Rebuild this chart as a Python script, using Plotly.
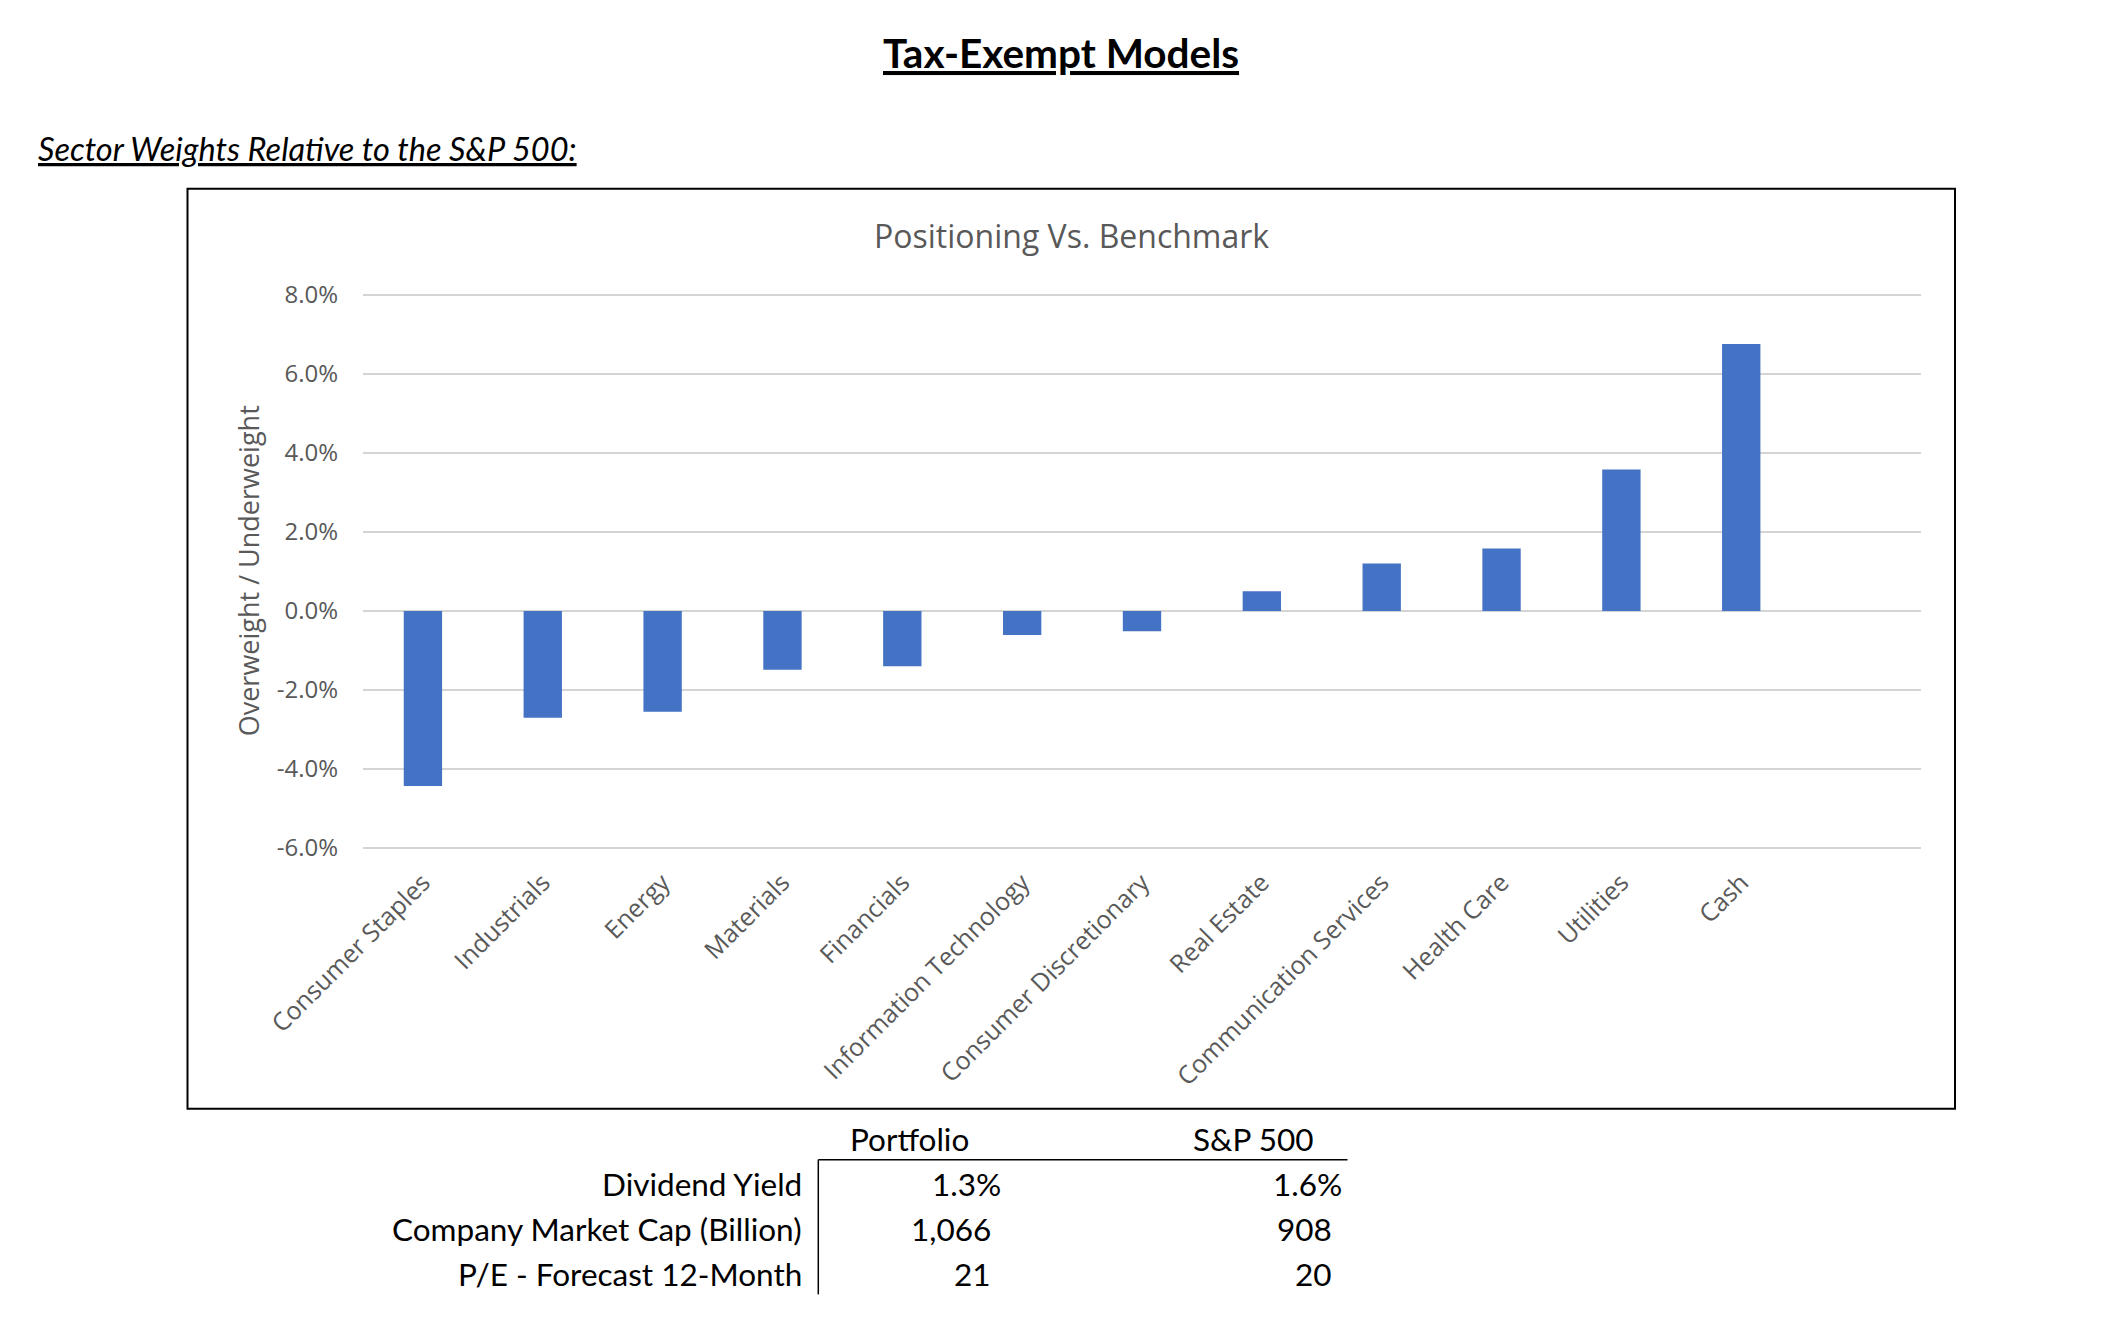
import plotly.graph_objects as go

# ---------------- data ----------------
categories = ["Consumer Staples", "Industrials", "Energy", "Materials", "Financials",
              "Information Technology", "Consumer Discretionary", "Real Estate",
              "Communication Services", "Health Care", "Utilities", "Cash"]
relative_weight = [-4.43, -2.70, -2.55, -1.49, -1.40, -0.61, -0.51, 0.50, 1.20, 1.58, 3.58, 6.76]

y_tick_values = [-6, -4, -2, 0, 2, 4, 6, 8]
y_tick_labels = ["-6.0%", "-4.0%", "-2.0%", "0.0%", "2.0%", "4.0%", "6.0%", "8.0%"]

page_title = "Tax-Exempt Models"
section_title = "Sector Weights Relative to the S&P 500:"
chart_title = "Positioning Vs. Benchmark"
y_axis_title = "Overweight / Underweight"

table_columns = ["Portfolio", "S&P 500"]
table_rows = ["Dividend Yield", "Company Market Cap (Billion)", "P/E - Forecast 12-Month"]
portfolio_values = ["1.3%", "1,066", "21"]
sp500_values = ["1.6%", "908", "20"]

# ---------------- geometry (pixels) ----------------
W, H = 2105, 1337
Y_MIN, Y_MAX = -6, 8
Y_PAD = 0.05                      # small pad so the end gridlines are drawn
TOP_PX, BOT_PX = 294.7, 847.7     # pixel rows of 8% and -6%
PX_PER_UNIT = (BOT_PX - TOP_PX) / (Y_MAX - Y_MIN)
PL, PR = 363, 1921
PT = TOP_PX - Y_PAD * PX_PER_UNIT
PB = BOT_PX + Y_PAD * PX_PER_UNIT


def fx(x):
    return (x - PL) / (PR - PL)


def fy(y):
    return (PB - y) / (PB - PT)


GREY = "#595959"
CHART_FONT = "Open Sans"
DOC_FONT = "Lato"

fig = go.Figure()
fig.add_trace(go.Bar(
    x=categories, y=relative_weight,
    marker=dict(color="#4472C4", line=dict(width=0)),
    hoverinfo="x+y",
))

annotations = []


def add_text(text, x, y, size, family, color="black", xanchor="center", yanchor="middle", angle=0):
    annotations.append(dict(
        text=text, x=fx(x), y=fy(y), xref="paper", yref="paper",
        xanchor=xanchor, yanchor=yanchor, showarrow=False, textangle=angle,
        font=dict(size=size, family=family, color=color),
    ))


# document titles
add_text("<b><u>" + page_title + "</u></b>", 1061, 52.5, 40.5, DOC_FONT)
add_text("<i><u>" + section_title + "</u></i>", 36, 148.5, 32.5, DOC_FONT, xanchor="left")

# chart titles
add_text(chart_title, 1071, 235, 32, CHART_FONT, color=GREY)
add_text(y_axis_title, 248, 571, 27, CHART_FONT, color=GREY, angle=-90)

# table
TABLE_SIZE = 31.5
col_centers = [909, 1253]
col_right = [992.5, 1334]
header_y = 1139
row_ys = [1184, 1228.5, 1273.5]
label_right = 804

for c, name in enumerate(table_columns):
    add_text(name, col_centers[c], header_y, TABLE_SIZE, DOC_FONT)
for r, label in enumerate(table_rows):
    add_text(label, label_right, row_ys[r], TABLE_SIZE, DOC_FONT, xanchor="right")
    for c, vals in enumerate([portfolio_values, sp500_values]):
        v = vals[r]
        xr = col_right[c] + (10 if v.endswith("%") else 0)
        add_text(v, xr, row_ys[r], TABLE_SIZE, DOC_FONT, xanchor="right")

shapes = [
    # chart frame
    dict(type="rect", xref="paper", yref="paper",
         x0=fx(187.5), x1=fx(1955), y0=fy(188.5), y1=fy(1108.5),
         line=dict(color="black", width=2), fillcolor="rgba(0,0,0,0)", layer="below"),
    # table rules
    dict(type="line", xref="paper", yref="paper",
         x0=fx(818.3), x1=fx(1347.5), y0=fy(1159.3), y1=fy(1159.3),
         line=dict(color="black", width=1.5)),
    dict(type="line", xref="paper", yref="paper",
         x0=fx(818.3), x1=fx(818.3), y0=fy(1159.3), y1=fy(1294),
         line=dict(color="black", width=1.5)),
]

fig.update_layout(
    width=W, height=H,
    margin=dict(l=PL, r=W - PR, t=PT, b=H - PB, pad=0, autoexpand=False),
    paper_bgcolor="white", plot_bgcolor="white",
    showlegend=False,
    bargap=0.68,
    font=dict(family=CHART_FONT, color=GREY),
    annotations=annotations,
    shapes=shapes,
    xaxis=dict(
        type="category", range=[-0.5, 12.5],
        showgrid=False, showline=False, zeroline=False, ticks="",
        tickangle=-45, tickfont=dict(size=25, family=CHART_FONT, color=GREY),
        ticklabelstandoff=12,
    ),
    yaxis=dict(
        range=[Y_MIN - Y_PAD, Y_MAX + Y_PAD], tickvals=y_tick_values, ticktext=y_tick_labels,
        showgrid=True, gridcolor="#D4D4D4", gridwidth=1.6,
        zeroline=True, zerolinecolor="#D4D4D4", zerolinewidth=1.6,
        showline=False, ticks="",
        tickfont=dict(size=24, family=CHART_FONT, color=GREY),
        ticklabelstandoff=24,
    ),
)

fig.write_html("out.html", config={"displayModeBar": False},
               post_script="document.body.style.margin='0';")
